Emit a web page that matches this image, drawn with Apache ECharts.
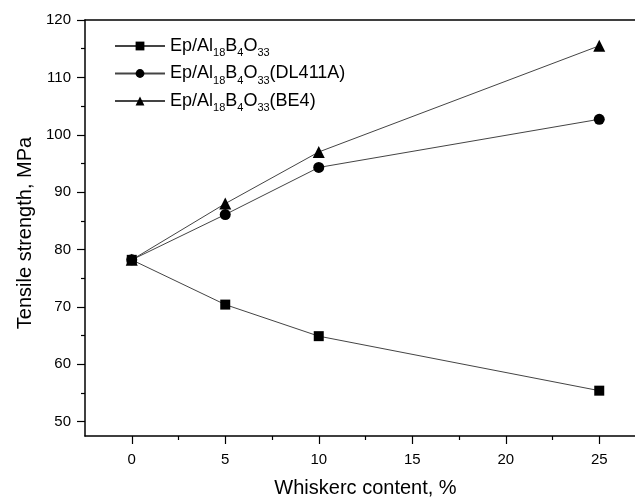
<!DOCTYPE html>
<html>
<head>
<meta charset="utf-8">
<script src="https://cdn.jsdelivr.net/npm/echarts@6/dist/echarts.min.js"></script>
<style>html,body{margin:0;padding:0;background:#fff}#c{width:635px;height:498px}</style>
</head>
<body>
<div id="c"></div>
<script>
var xValues = [0, 5, 10, 25];
var seriesNames = ['Ep/Al18B4O33', 'Ep/Al18B4O33(DL411A)', 'Ep/Al18B4O33(BE4)'];
var plain = [78.2, 70.4, 64.9, 55.4];
var dl411a = [78.2, 86.1, 94.3, 102.7];
var be4 = [78.2, 88.0, 97.0, 115.5];
var xMajorTicks = [0, 5, 10, 15, 20, 25];
var xMinorTicks = [2.5, 7.5, 12.5, 17.5, 22.5, 27.5];
var yMajorTicks = [50, 60, 70, 80, 90, 100, 110, 120];
var yMinorTicks = [55, 65, 75, 85, 95, 105, 115];

var FONT = 'Liberation Sans, Arial, sans-serif';
function pairs(vals) { return xValues.map(function (x, i) { return [x, vals[i]]; }); }
var symbols = ['rect', 'circle', 'triangle'];
var sizes = [10, 11, 12];
var datas = [plain, dl411a, be4];

var series = seriesNames.map(function (n, i) {
  return {
    name: n, type: 'line', data: pairs(datas[i]),
    symbol: symbols[i], symbolSize: sizes[i],
    itemStyle: { color: '#000' },
    lineStyle: { color: '#444', width: 1 },
    emphasis: { disabled: true }, animation: false
  };
});

var xCommon = { type: 'value', min: -2.5, max: 27.5, splitLine: { show: false } };
var yCommon = { type: 'value', min: 47.5, max: 120, splitLine: { show: false } };

var chart = echarts.init(document.getElementById('c'), null, { renderer: 'canvas' });
chart.setOption({
  backgroundColor: '#fff',
  animation: false,
  grid: { left: 85, right: -11, top: 20, bottom: 62, containLabel: false, outerBoundsMode: 'none' },
  legend: {
    orient: 'vertical', left: 114, top: 37, padding: 0, itemWidth: 50, itemHeight: 11, itemGap: 6,
    data: seriesNames,
    textStyle: {
      fontFamily: FONT, fontSize: 18, color: '#000',
      rich: {
        n: { fontFamily: FONT, fontSize: 18, color: '#000' },
        s: { fontFamily: FONT, fontSize: 11, color: '#000', padding: [14, 0, 0, 0] }
      }
    },
    formatter: function (name) {
      return name.replace(/^Ep\/Al18B4O33(.*)$/, function (m, rest) {
        return '{n|Ep/Al}{s|18}{n|B}{s|4}{n|O}{s|33}' + (rest ? '{n|' + rest + '}' : '');
      });
    }
  },
  xAxis: [
    Object.assign({}, xCommon, {
      position: 'bottom',
      name: 'Whiskerc content, %', nameLocation: 'middle', nameGap: 42,
      nameTextStyle: { fontFamily: FONT, fontSize: 20, color: '#000' },
      axisLine: { onZero: false, lineStyle: { color: '#000', width: 1.5 } },
      axisTick: { show: true, length: 8, customValues: xMajorTicks, lineStyle: { color: '#000', width: 1.2 } },
      axisLabel: { customValues: xMajorTicks, margin: 16, fontFamily: FONT, fontSize: 15, color: '#000' }
    }),
    Object.assign({}, xCommon, {
      position: 'bottom',
      axisLine: { show: false, onZero: false },
      axisTick: { show: true, length: 4, customValues: xMinorTicks, lineStyle: { color: '#000', width: 1.2 } },
      axisLabel: { show: false }
    }),
    Object.assign({}, xCommon, {
      position: 'top',
      axisLine: { onZero: false, lineStyle: { color: '#000', width: 1.5 } },
      axisTick: { show: false }, axisLabel: { show: false }
    })
  ],
  yAxis: [
    Object.assign({}, yCommon, {
      position: 'left',
      name: 'Tensile strength, MPa', nameLocation: 'middle', nameGap: 50, nameRotate: 90,
      nameTextStyle: { fontFamily: FONT, fontSize: 20, color: '#000', padding: [0, 10, 0, 0] },
      axisLine: { show: true, onZero: false, lineStyle: { color: '#000', width: 1.5 } },
      axisTick: { show: true, length: 8, customValues: yMajorTicks, lineStyle: { color: '#000', width: 1.2 } },
      axisLabel: { customValues: yMajorTicks, margin: 14, fontFamily: FONT, fontSize: 15, color: '#000' }
    }),
    Object.assign({}, yCommon, {
      position: 'left',
      axisLine: { show: false, onZero: false },
      axisTick: { show: true, length: 4, customValues: yMinorTicks, lineStyle: { color: '#000', width: 1.2 } },
      axisLabel: { show: false }
    })
  ],
  series: series
});
</script>
</body>
</html>
